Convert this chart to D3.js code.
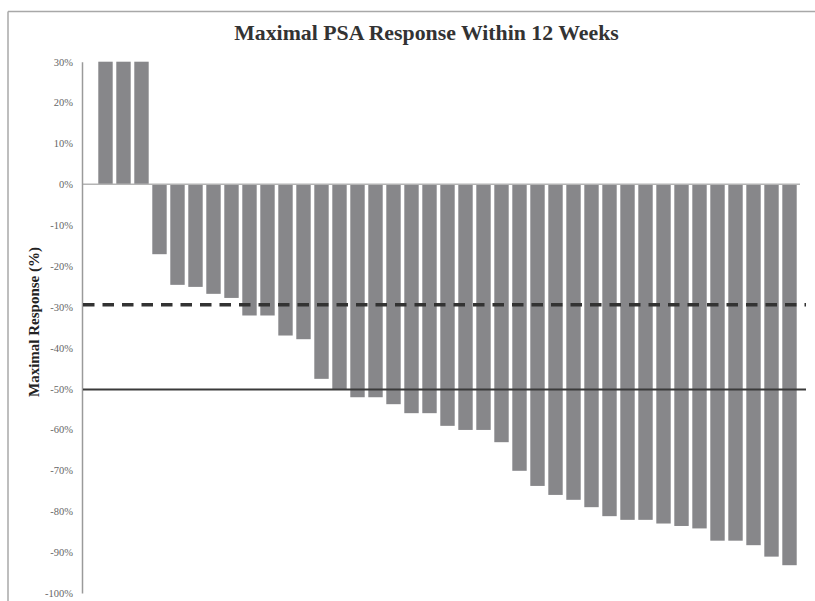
<!DOCTYPE html>
<html>
<head>
<meta charset="utf-8">
<script src="https://cdn.jsdelivr.net/npm/d3@7"></script>
<style>
  html, body { margin: 0; padding: 0; background: #ffffff; }
  svg { display: block; }
</style>
</head>
<body>
<svg id="chart" width="815" height="601"></svg>
<script>
// ---- data ----
const patients = [1,2,3,4,5,6,7,8,9,10,11,12,13,14,15,16,17,18,19,20,21,22,23,24,25,26,27,28,29,30,31,32,33,34,35,36,37,38,39];
const responses = [30,30,30,-17.1,-24.6,-25.1,-26.8,-27.8,-32.1,-32.1,-37.0,-37.9,-47.6,-50.2,-52.1,-52.1,-53.8,-56.0,-56.0,-59.1,-60.1,-60.1,-63.1,-70.1,-73.8,-76.0,-77.2,-79.0,-81.2,-82.1,-82.1,-83.0,-83.6,-84.2,-87.2,-87.2,-88.3,-91.1,-93.2];
const yTicks = [30,20,10,0,-10,-20,-30,-40,-50,-60,-70,-80,-90,-100];
const dashedRef = [-29.5];
const solidRef = [-50.2];
const titleText = "Maximal PSA Response Within 12 Weeks";
const yLabel = "Maximal Response (%)";

// ---- layout ----
const svg = d3.select("#chart");
const axisX = 82, zeroEnd = 800, refEnd = 806;

const x = d3.scaleBand().domain(patients).range([axisX, 813])
  .paddingInner(0.2).paddingOuter(0.905);
const y = d3.scaleLinear().domain([-100, 30]).range([593, 61.7]);

// frame
svg.append("line").attr("x1", 8).attr("x2", 815).attr("y1", 11.5).attr("y2", 11.5)
  .attr("stroke", "#a8a8a8").attr("stroke-width", 1.5);
svg.append("line").attr("x1", 8).attr("x2", 8).attr("y1", 11.5).attr("y2", 601)
  .attr("stroke", "#a8a8a8").attr("stroke-width", 1.5);

// title
svg.append("text").attr("x", 426.5).attr("y", 40).attr("text-anchor", "middle")
  .attr("font-family", "'Liberation Serif', 'Times New Roman', serif")
  .attr("font-weight", "bold").attr("font-size", 21.8).attr("fill", "#333")
  .text(titleText);

// y label
svg.append("text").attr("transform", "translate(39,322) rotate(-90)")
  .attr("text-anchor", "middle")
  .attr("font-family", "'Liberation Serif', 'Times New Roman', serif")
  .attr("font-weight", "bold").attr("font-size", 15).attr("fill", "#222")
  .text(yLabel);

// bars
svg.append("g").selectAll("rect").data(responses).join("rect")
  .attr("x", (d, i) => x(patients[i]))
  .attr("width", x.bandwidth())
  .attr("y", d => y(Math.max(0, d)))
  .attr("height", d => Math.abs(y(d) - y(0)))
  .attr("fill", "#87878a");

// zero line
svg.append("line").attr("x1", axisX).attr("x2", zeroEnd)
  .attr("y1", y(0)).attr("y2", y(0))
  .attr("stroke", "#b4b4b4").attr("stroke-width", 1.5);

// y axis
const yAxis = d3.axisLeft(y).tickValues(yTicks).tickSize(0).tickPadding(9)
  .tickFormat(d => d + "%");
const gy = svg.append("g").attr("transform", `translate(${axisX},0)`).call(yAxis);
gy.select(".domain").attr("stroke", "#9a9a9a").attr("stroke-width", 1.5);
gy.selectAll("text")
  .attr("font-family", "'Liberation Serif', 'Times New Roman', serif")
  .attr("font-size", 10.5).attr("fill", "#666");

// reference lines
svg.append("g").selectAll("line").data(dashedRef).join("line")
  .attr("x1", axisX + 1).attr("x2", refEnd)
  .attr("y1", d => y(d)).attr("y2", d => y(d))
  .attr("stroke", "#333").attr("stroke-width", 3.5)
  .attr("stroke-dasharray", "11.5,8");
svg.append("g").selectAll("line").data(solidRef).join("line")
  .attr("x1", axisX + 1).attr("x2", refEnd)
  .attr("y1", d => y(d)).attr("y2", d => y(d))
  .attr("stroke", "#3a3a3a").attr("stroke-width", 2);
</script>
</body>
</html>
